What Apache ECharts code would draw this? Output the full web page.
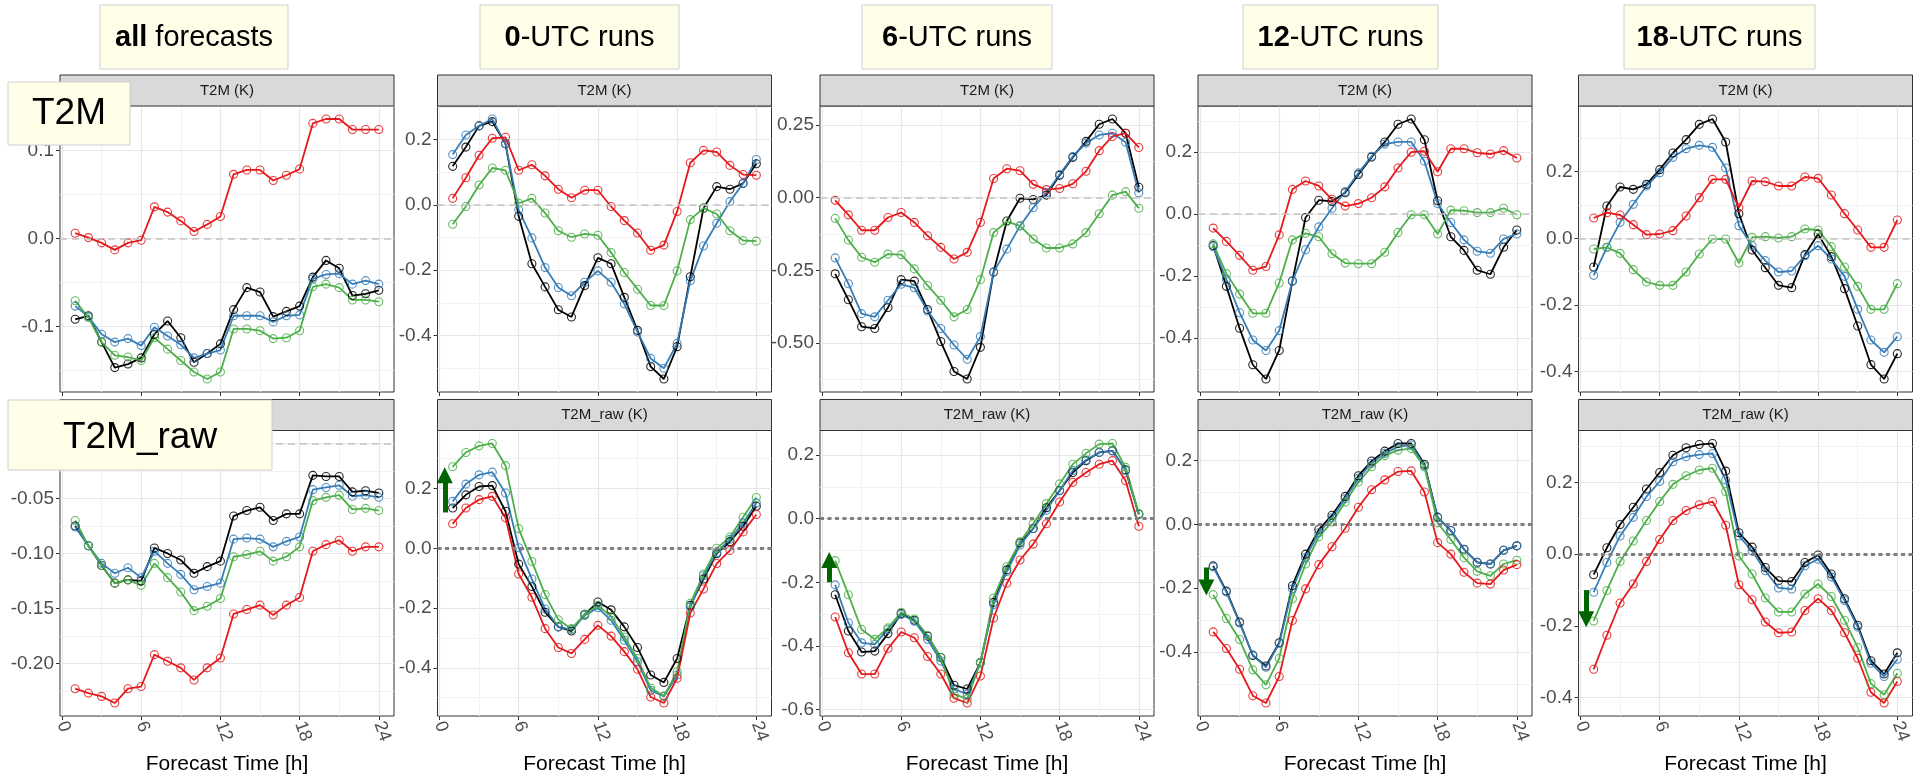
<!DOCTYPE html>
<html><head><meta charset="utf-8">
<script src="https://cdn.jsdelivr.net/npm/echarts@6/dist/echarts.min.js"></script>
<style>html,body{margin:0;padding:0;background:#fff}#c{width:1914px;height:781px}</style>
</head><body><div id="c"></div><script>
// ---------------- data ----------------
const hours = [1,2,3,4,5,6,7,8,9,10,11,12,13,14,15,16,17,18,19,20,21,22,23,24];
const xBreaks = [0,6,12,18,24];
const xMinor = [3,9,15,21];
const colTitlesBold = ['all','0','6','12','18'];
const colTitlesRest = [' forecasts','-UTC runs','-UTC runs','-UTC runs','-UTC runs'];
const rowLabels = ['T2M','T2M_raw'];
const stripLabels = ['T2M (K)','T2M_raw (K)'];
const xTitle = 'Forecast Time [h]';

// T2M (top row)
const t2m_all_black = [-0.092,-0.088,-0.118,-0.147,-0.143,-0.136,-0.109,-0.094,-0.113,-0.141,-0.131,-0.120,-0.081,-0.056,-0.061,-0.089,-0.083,-0.077,-0.044,-0.025,-0.034,-0.065,-0.063,-0.059];
const t2m_all_blue  = [-0.077,-0.089,-0.109,-0.118,-0.114,-0.122,-0.101,-0.111,-0.121,-0.136,-0.131,-0.127,-0.088,-0.088,-0.088,-0.095,-0.088,-0.087,-0.046,-0.041,-0.040,-0.052,-0.048,-0.052];
const t2m_all_green = [-0.071,-0.090,-0.118,-0.133,-0.135,-0.139,-0.113,-0.126,-0.139,-0.152,-0.160,-0.152,-0.103,-0.103,-0.105,-0.114,-0.113,-0.105,-0.055,-0.052,-0.056,-0.070,-0.070,-0.072];
const t2m_all_red   = [0.006,0.001,-0.005,-0.013,-0.005,-0.002,0.036,0.030,0.020,0.008,0.016,0.025,0.073,0.078,0.078,0.066,0.072,0.079,0.131,0.136,0.136,0.124,0.124,0.124];

const t2m_utc0_black = [0.118,0.177,0.242,0.255,0.187,-0.035,-0.180,-0.251,-0.321,-0.343,-0.247,-0.162,-0.180,-0.283,-0.384,-0.495,-0.533,-0.434,-0.220,-0.010,0.056,0.048,0.066,0.126];
const t2m_utc0_blue  = [0.154,0.214,0.242,0.263,0.187,-0.015,-0.101,-0.192,-0.253,-0.278,-0.237,-0.202,-0.237,-0.303,-0.389,-0.470,-0.500,-0.424,-0.232,-0.126,-0.056,0.010,0.066,0.139];
const t2m_utc0_green = [-0.059,-0.005,0.061,0.113,0.106,0.005,0.020,-0.025,-0.079,-0.099,-0.089,-0.093,-0.146,-0.207,-0.258,-0.308,-0.308,-0.202,-0.045,-0.010,-0.028,-0.079,-0.109,-0.111];
const t2m_utc0_red   = [0.020,0.083,0.152,0.204,0.207,0.106,0.123,0.089,0.048,0.022,0.045,0.045,-0.005,-0.048,-0.086,-0.139,-0.123,-0.020,0.129,0.167,0.162,0.121,0.093,0.091];

const t2m_utc6_black = [-0.262,-0.351,-0.444,-0.450,-0.378,-0.282,-0.287,-0.385,-0.495,-0.598,-0.624,-0.515,-0.256,-0.080,-0.002,-0.006,0.009,0.077,0.139,0.194,0.253,0.271,0.222,0.036];
const t2m_utc6_blue  = [-0.207,-0.296,-0.399,-0.410,-0.353,-0.298,-0.310,-0.390,-0.450,-0.507,-0.556,-0.478,-0.256,-0.177,-0.097,-0.034,0.017,0.080,0.142,0.188,0.216,0.222,0.191,0.017];
const t2m_utc6_green = [-0.071,-0.146,-0.205,-0.222,-0.194,-0.196,-0.245,-0.302,-0.353,-0.410,-0.385,-0.282,-0.120,-0.082,-0.097,-0.142,-0.173,-0.173,-0.159,-0.120,-0.055,0.009,0.021,-0.036];
const t2m_utc6_red   = [-0.009,-0.059,-0.112,-0.112,-0.068,-0.051,-0.085,-0.131,-0.171,-0.211,-0.188,-0.085,0.066,0.100,0.093,0.046,0.028,0.032,0.048,0.091,0.162,0.211,0.222,0.173];

const t2m_utc12_black = [-0.101,-0.233,-0.368,-0.486,-0.532,-0.440,-0.216,-0.011,0.045,0.041,0.069,0.128,0.184,0.233,0.290,0.307,0.240,0.043,-0.073,-0.117,-0.181,-0.194,-0.107,-0.051];
const t2m_utc12_blue  = [-0.105,-0.211,-0.318,-0.406,-0.440,-0.376,-0.216,-0.115,-0.041,0.019,0.073,0.133,0.187,0.226,0.233,0.233,0.171,0.034,-0.027,-0.083,-0.120,-0.126,-0.080,-0.064];
const t2m_utc12_green = [-0.096,-0.192,-0.258,-0.320,-0.320,-0.222,-0.083,-0.062,-0.073,-0.128,-0.158,-0.160,-0.160,-0.123,-0.059,-0.002,-0.002,-0.064,0.013,0.011,0.005,0.005,0.019,-0.002];
const t2m_utc12_red   = [-0.045,-0.088,-0.133,-0.181,-0.169,-0.067,0.080,0.107,0.091,0.048,0.026,0.034,0.053,0.088,0.149,0.200,0.203,0.137,0.211,0.211,0.198,0.194,0.205,0.181];

const t2m_utc18_black = [-0.086,0.097,0.154,0.147,0.162,0.206,0.256,0.296,0.342,0.358,0.289,0.074,-0.035,-0.088,-0.141,-0.148,-0.049,0.013,-0.055,-0.151,-0.263,-0.379,-0.422,-0.346];
const t2m_utc18_blue  = [-0.111,-0.027,0.048,0.102,0.157,0.197,0.243,0.269,0.279,0.273,0.211,0.038,-0.022,-0.067,-0.101,-0.098,-0.052,-0.022,-0.062,-0.114,-0.213,-0.305,-0.342,-0.295];
const t2m_utc18_green = [-0.032,-0.027,-0.045,-0.094,-0.131,-0.141,-0.141,-0.101,-0.047,-0.002,-0.002,-0.074,0.003,0.005,0.001,0.005,0.028,0.025,-0.025,-0.086,-0.144,-0.213,-0.213,-0.136];
const t2m_utc18_red   = [0.061,0.077,0.070,0.041,0.011,0.013,0.023,0.067,0.122,0.177,0.177,0.092,0.172,0.170,0.157,0.157,0.184,0.180,0.130,0.074,0.025,-0.027,-0.027,0.055];

// T2M_raw (bottom row)
const raw_all_black = [-0.075,-0.093,-0.111,-0.127,-0.124,-0.125,-0.095,-0.100,-0.106,-0.118,-0.112,-0.107,-0.066,-0.061,-0.058,-0.070,-0.064,-0.064,-0.029,-0.030,-0.030,-0.044,-0.043,-0.045];
const raw_all_blue  = [-0.076,-0.093,-0.109,-0.118,-0.113,-0.122,-0.098,-0.109,-0.119,-0.133,-0.130,-0.127,-0.087,-0.086,-0.087,-0.094,-0.089,-0.085,-0.042,-0.040,-0.038,-0.048,-0.047,-0.049];
const raw_all_green = [-0.070,-0.093,-0.111,-0.127,-0.124,-0.129,-0.109,-0.122,-0.135,-0.152,-0.148,-0.141,-0.103,-0.101,-0.098,-0.107,-0.103,-0.094,-0.052,-0.049,-0.047,-0.060,-0.059,-0.061];
const raw_all_red   = [-0.223,-0.227,-0.230,-0.236,-0.223,-0.221,-0.192,-0.198,-0.204,-0.215,-0.204,-0.195,-0.155,-0.151,-0.147,-0.156,-0.147,-0.140,-0.098,-0.092,-0.088,-0.098,-0.094,-0.094];

const raw_utc0_black = [0.135,0.179,0.207,0.210,0.124,-0.053,-0.128,-0.214,-0.263,-0.277,-0.221,-0.180,-0.206,-0.263,-0.332,-0.424,-0.449,-0.369,-0.191,-0.103,-0.018,0.022,0.074,0.141];
const raw_utc0_blue  = [0.157,0.215,0.246,0.255,0.185,0.002,-0.103,-0.203,-0.263,-0.272,-0.225,-0.199,-0.241,-0.308,-0.380,-0.476,-0.496,-0.424,-0.197,-0.092,-0.014,0.030,0.085,0.152];
const raw_utc0_green = [0.273,0.321,0.343,0.351,0.277,0.066,-0.044,-0.155,-0.239,-0.269,-0.221,-0.191,-0.228,-0.297,-0.369,-0.468,-0.494,-0.413,-0.184,-0.086,0.000,0.038,0.104,0.170];
const raw_utc0_red   = [0.082,0.135,0.163,0.174,0.102,-0.086,-0.164,-0.269,-0.332,-0.352,-0.305,-0.258,-0.294,-0.346,-0.405,-0.498,-0.518,-0.435,-0.217,-0.136,-0.051,-0.007,0.055,0.113];

const raw_utc6_black = [-0.239,-0.353,-0.419,-0.416,-0.361,-0.298,-0.319,-0.369,-0.436,-0.523,-0.535,-0.452,-0.263,-0.161,-0.076,-0.031,0.034,0.088,0.145,0.182,0.208,0.213,0.153,0.014];
const raw_utc6_blue  = [-0.208,-0.327,-0.390,-0.395,-0.348,-0.301,-0.322,-0.379,-0.447,-0.535,-0.551,-0.452,-0.270,-0.166,-0.083,-0.031,0.026,0.088,0.151,0.184,0.208,0.213,0.151,0.014];
const raw_utc6_green = [-0.132,-0.239,-0.348,-0.379,-0.343,-0.294,-0.315,-0.367,-0.436,-0.551,-0.566,-0.452,-0.249,-0.151,-0.073,-0.016,0.047,0.109,0.171,0.205,0.234,0.236,0.161,0.016];
const raw_utc6_red   = [-0.309,-0.421,-0.488,-0.488,-0.408,-0.356,-0.374,-0.433,-0.488,-0.564,-0.579,-0.494,-0.312,-0.203,-0.130,-0.080,-0.016,0.052,0.114,0.145,0.171,0.182,0.119,-0.024];

const raw_utc12_black = [-0.130,-0.209,-0.306,-0.411,-0.444,-0.371,-0.192,-0.093,-0.016,0.029,0.088,0.153,0.199,0.230,0.254,0.254,0.189,0.023,-0.019,-0.078,-0.119,-0.124,-0.081,-0.067];
const raw_utc12_blue  = [-0.133,-0.212,-0.309,-0.409,-0.448,-0.373,-0.202,-0.104,-0.026,0.021,0.081,0.145,0.192,0.223,0.244,0.249,0.184,0.021,-0.019,-0.078,-0.119,-0.124,-0.081,-0.067];
const raw_utc12_green = [-0.220,-0.295,-0.361,-0.456,-0.503,-0.420,-0.233,-0.124,-0.039,0.008,0.070,0.133,0.181,0.216,0.233,0.238,0.181,0.005,-0.047,-0.104,-0.147,-0.161,-0.124,-0.112];
const raw_utc12_red   = [-0.337,-0.389,-0.454,-0.537,-0.560,-0.477,-0.301,-0.202,-0.126,-0.070,-0.012,0.054,0.109,0.140,0.166,0.168,0.102,-0.057,-0.093,-0.150,-0.184,-0.187,-0.143,-0.126];

const raw_utc18_black = [-0.057,0.018,0.083,0.131,0.182,0.228,0.276,0.297,0.306,0.309,0.232,0.060,0.020,-0.037,-0.074,-0.076,-0.023,-0.002,-0.055,-0.124,-0.198,-0.297,-0.334,-0.275];
const raw_utc18_blue  = [-0.106,-0.023,0.051,0.103,0.161,0.203,0.258,0.272,0.278,0.281,0.207,0.051,0.009,-0.046,-0.094,-0.097,-0.032,-0.014,-0.063,-0.129,-0.203,-0.304,-0.341,-0.293];
const raw_utc18_green = [-0.186,-0.101,-0.020,0.037,0.094,0.147,0.195,0.219,0.235,0.240,0.175,-0.005,-0.055,-0.122,-0.161,-0.161,-0.111,-0.083,-0.118,-0.184,-0.260,-0.361,-0.392,-0.332];
const raw_utc18_red   = [-0.321,-0.226,-0.136,-0.083,-0.020,0.041,0.094,0.122,0.138,0.147,0.081,-0.085,-0.127,-0.189,-0.219,-0.217,-0.157,-0.124,-0.157,-0.219,-0.290,-0.385,-0.415,-0.355];

// y-axis tick labels (major) and minor grid positions per panel
const yBreaks_t2m = [[-0.1,0,0.1],[-0.4,-0.2,0,0.2],[-0.50,-0.25,0,0.25],[-0.4,-0.2,0,0.2],[-0.4,-0.2,0,0.2]];
const yMinor_t2m  = [[-0.15,-0.05,0.05,0.15],[-0.5,-0.3,-0.1,0.1,0.3],[-0.625,-0.375,-0.125,0.125],[-0.5,-0.3,-0.1,0.1,0.3],[-0.3,-0.1,0.1,0.3]];
const yBreaks_raw = [[-0.20,-0.15,-0.10,-0.05,0],[-0.4,-0.2,0,0.2],[-0.6,-0.4,-0.2,0,0.2],[-0.4,-0.2,0,0.2],[-0.4,-0.2,0,0.2]];
const yMinor_raw  = [[-0.225,-0.175,-0.125,-0.075,-0.025],[-0.5,-0.3,-0.1,0.1,0.3],[-0.5,-0.3,-0.1,0.1],[-0.5,-0.3,-0.1,0.1],[-0.3,-0.1,0.1,0.3]];
const yDecimals_t2m = [1,1,2,1,1];
const yDecimals_raw = [2,1,1,1,1];

// green arrows (hour position, tail value, head value) in T2M_raw panels
const arrowCols  = [1,2,3,4];
const arrowX     = [0.4, 0.55, 0.48, 0.43];
const arrowFrom  = [0.12, -0.20, -0.135, -0.10];
const arrowTo    = [0.245, -0.13, -0.198, -0.181];

// ---------------- layout / style ----------------
const colLeft = [60, 437.5, 820, 1198, 1578.5];
const plotW = 334;
const rowTop = [106, 430.5];
const plotH = [286, 285.5];
const stripH = 31;
const colors = ['#000000','#377eb8','#4daf4a','#e41a1c'];
const SANS = "'Liberation Sans', Arial, sans-serif";
const NARROW = "'Liberation Sans Narrow','Arial Narrow','Liberation Sans',sans-serif";

const rows = [
  [[t2m_all_black,t2m_all_blue,t2m_all_green,t2m_all_red],
   [t2m_utc0_black,t2m_utc0_blue,t2m_utc0_green,t2m_utc0_red],
   [t2m_utc6_black,t2m_utc6_blue,t2m_utc6_green,t2m_utc6_red],
   [t2m_utc12_black,t2m_utc12_blue,t2m_utc12_green,t2m_utc12_red],
   [t2m_utc18_black,t2m_utc18_blue,t2m_utc18_green,t2m_utc18_red]],
  [[raw_all_black,raw_all_blue,raw_all_green,raw_all_red],
   [raw_utc0_black,raw_utc0_blue,raw_utc0_green,raw_utc0_red],
   [raw_utc6_black,raw_utc6_blue,raw_utc6_green,raw_utc6_red],
   [raw_utc12_black,raw_utc12_blue,raw_utc12_green,raw_utc12_red],
   [raw_utc18_black,raw_utc18_blue,raw_utc18_green,raw_utc18_red]]
];
const yBreaks = [yBreaks_t2m, yBreaks_raw];
const yMinor = [yMinor_t2m, yMinor_raw];
const yDec = [yDecimals_t2m, yDecimals_raw];

const xMinV = hours[0] - 0.05*(hours[hours.length-1]-hours[0]);
const xMaxV = hours[hours.length-1] + 0.05*(hours[hours.length-1]-hours[0]);

const grids = [], xAxes = [], yAxes = [], series = [], graphics = [];
const auxX = [], auxY = [];
let pi = 0;
for (let r = 0; r < 2; r++) {
  for (let c = 0; c < 5; c++) {
    const sets = rows[r][c];
    let lo = 0, hi = 0;
    sets.forEach(a => a.forEach(v => { lo = Math.min(lo, v); hi = Math.max(hi, v); }));
    const pad = 0.05*(hi-lo);
    const yMin = lo - pad, yMax = hi + pad;
    grids.push({left: colLeft[c], top: rowTop[r], width: plotW, height: plotH[r],
      show: true, backgroundColor: '#fff', borderColor: '#333', borderWidth: 1, containLabel: false});
    const d = yDec[r][c];
    xAxes.push({type:'value', gridIndex: pi, min: xMinV, max: xMaxV,
      name: r === 1 ? xTitle : '', nameLocation: 'middle', nameGap: 38,
      nameTextStyle: {fontSize: 21, fontFamily: NARROW, color: '#000'},
      axisLine: {show: false, onZero: false},
      axisTick: {show: true, customValues: xBreaks, length: 4, lineStyle: {color: '#333', width: 1}},
      axisLabel: {show: r === 1, customValues: xBreaks, rotate: -70, fontSize: 18, color: '#4d4d4d', fontFamily: SANS, margin: 6},
      splitLine: {show: true, lineStyle: {color: '#e6e6e6', width: 1.2}}});
    auxX.push({type:'value', gridIndex: pi, min: xMinV, max: xMaxV,
      axisLine: {show: false, onZero: false}, axisTick: {show: false, customValues: xMinor},
      axisLabel: {show: false, customValues: xMinor},
      splitLine: {show: true, lineStyle: {color: '#f2f2f2', width: 1}}});
    yAxes.push({type:'value', gridIndex: pi, min: yMin, max: yMax,
      axisLine: {show: false, onZero: false},
      axisTick: {show: true, customValues: yBreaks[r][c], length: 4, lineStyle: {color: '#333', width: 1}},
      axisLabel: {show: true, customValues: yBreaks[r][c], formatter: v => v.toFixed(d), fontSize: 19, color: '#4d4d4d', fontFamily: SANS, margin: 6},
      splitLine: {show: true, lineStyle: {color: '#e6e6e6', width: 1.2}}});
    auxY.push({type:'value', gridIndex: pi, min: yMin, max: yMax, position: 'left',
      axisLine: {show: false, onZero: false}, axisTick: {show: false, customValues: yMinor[r][c]},
      axisLabel: {show: false, customValues: yMinor[r][c]},
      splitLine: {show: true, lineStyle: {color: '#f2f2f2', width: 1}}});

    // zero reference line
    const dotted = (r === 1 && c > 0);
    series.push({type: 'line', xAxisIndex: pi, yAxisIndex: pi, data: [], silent: true,
      markLine: {silent: true, symbol: ['none','none'], label: {show: false}, animation: false,
        lineStyle: dotted ? {type: [4,3.5], color: '#808080', width: 3.2} : {type: [7,5], color: '#c4c4c4', width: 1.6},
        data: [{yAxis: 0}]}});
    sets.forEach((vals, k) => {
      series.push({type: 'line', xAxisIndex: pi, yAxisIndex: pi, animation: false,
        data: hours.map((h, i) => [h, vals[i]]),
        symbol: 'circle', symbolSize: 8,
        lineStyle: {color: colors[k], width: 1.8},
        itemStyle: {color: 'rgba(0,0,0,0)', borderColor: colors[k], borderWidth: 1.1, opacity: 0.85}});
    });
    // arrows
    if (r === 1 && arrowCols.indexOf(c) >= 0) {
      const j = arrowCols.indexOf(c);
      series.push({type: 'line', xAxisIndex: pi, yAxisIndex: pi, data: [], silent: true, z: 5,
        markLine: {silent: true, symbol: ['none','triangle'], symbolSize: 16, label: {show: false}, animation: false,
          lineStyle: {type: 'solid', color: '#006400', width: 5},
          itemStyle: {color: '#006400'},
          data: [[{coord: [arrowX[j], arrowFrom[j]]}, {coord: [arrowX[j], arrowTo[j]]}]]}});
    }
    // strip
    graphics.push({type: 'rect', z: 10, shape: {x: colLeft[c], y: rowTop[r]-stripH, width: plotW, height: stripH},
      style: {fill: '#d9d9d9', stroke: '#333', lineWidth: 1}});
    graphics.push({type: 'text', z: 11, x: colLeft[c]+plotW/2, y: rowTop[r]-stripH/2,
      style: {text: stripLabels[r], fontSize: 15, fontFamily: NARROW, fill: '#1a1a1a', align: 'center', verticalAlign: 'middle'}});
    pi++;
  }
}

// column title boxes
const titleBoxX = [100, 480, 862, 1243, 1624];
const titleBoxW = [188, 199, 190, 195, 191];
for (let c = 0; c < 5; c++) {
  graphics.push({type: 'rect', z: 50, shape: {x: titleBoxX[c], y: 5, width: titleBoxW[c], height: 64},
    style: {fill: '#fefee9', stroke: '#cfcfcf', lineWidth: 1}});
  graphics.push({type: 'text', z: 51, x: titleBoxX[c] + titleBoxW[c]/2, y: 38,
    style: {text: '{b|' + colTitlesBold[c] + '}{n|' + colTitlesRest[c] + '}', align: 'center', verticalAlign: 'middle',
      rich: {b: {fontSize: 29, fontWeight: 'bold', fontFamily: NARROW, fill: '#000'},
             n: {fontSize: 29, fontFamily: NARROW, fill: '#000'}}}});
}
// row label boxes
graphics.push({type: 'rect', z: 50, shape: {x: 8, y: 82, width: 122, height: 63}, style: {fill: '#fefee9', stroke: '#cfcfcf', lineWidth: 1}});
graphics.push({type: 'text', z: 51, x: 69, y: 114, style: {text: rowLabels[0], fontSize: 37, fontFamily: SANS, fill: '#000', align: 'center', verticalAlign: 'middle'}});
graphics.push({type: 'rect', z: 50, shape: {x: 8, y: 400, width: 264, height: 70}, style: {fill: '#fefee9', stroke: '#cfcfcf', lineWidth: 1}});
graphics.push({type: 'text', z: 51, x: 140, y: 438, style: {text: rowLabels[1], fontSize: 37, fontFamily: SANS, fill: '#000', align: 'center', verticalAlign: 'middle'}});

const chart = echarts.init(document.getElementById('c'), null, {renderer: 'canvas'});
chart.setOption({
  animation: false,
  backgroundColor: '#fff',
  grid: grids,
  xAxis: xAxes.concat(auxX),
  yAxis: yAxes.concat(auxY),
  series: series,
  graphic: {elements: graphics}
});
</script></body></html>
